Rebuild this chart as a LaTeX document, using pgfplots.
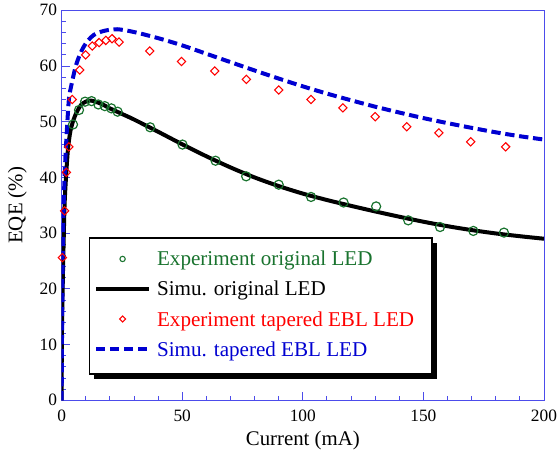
\documentclass[border=0pt]{standalone}
\usepackage{pgfplots}
\pgfplotsset{compat=1.18}
\usepackage{fontspec}
\setmainfont{Liberation Serif}
\usetikzlibrary{shadows}

\definecolor{expgreen}{rgb}{0.1,0.45,0.18}
\definecolor{frameblue}{rgb}{0.3,0.3,0.92}
\definecolor{simblue}{rgb}{0,0,0.82}

% legend line images drawn at pgf level, so the legend's drop shadow does not copy them
\pgfplotsset{
  blacklegend/.style={legend image code/.code={\begin{pgfscope}
    \pgfsetlinewidth{3pt}\pgfsetstrokecolor{black}
    \pgfpathmoveto{\pgfqpoint{0pt}{1.5pt}}\pgfpathlineto{\pgfqpoint{39.8pt}{1.5pt}}
    \pgfusepath{stroke}\end{pgfscope}}},
  bluelegend/.style={legend image code/.code={\begin{pgfscope}
    \pgfsetlinewidth{3pt}\pgfsetstrokecolor{simblue}\pgfsetdash{{7pt}{3.5pt}}{0pt}
    \pgfpathmoveto{\pgfqpoint{0pt}{1.5pt}}\pgfpathlineto{\pgfqpoint{39.8pt}{1.5pt}}
    \pgfusepath{stroke}\end{pgfscope}}},
  marklegend/.style={legend image code/.code={\draw[##1] plot coordinates {(0.7cm,1.5pt)};}},
}

\begin{document}
\begin{tikzpicture}
\begin{axis}[
  scale only axis, width=361.5pt, height=292.3pt,
  xmin=0, xmax=200, ymin=0, ymax=70,
  xtick={0,50,...,200}, ytick={0,10,...,70},
  xticklabels={0,50,100,150,200},
  yticklabels={0,10,20,30,40,50,60,70},
  minor x tick num=4, minor y tick num=4,
  tick align=inside, xtick pos=bottom, ytick pos=left,
  major tick length=6.5pt, minor tick length=3.5pt,
  axis line style={frameblue, line width=0.7pt},
  every tick/.style={frameblue, line width=0.7pt},
  tick label style={font=\fontsize{13}{15}\selectfont, black},
  xticklabel style={yshift=-4pt, inner xsep=0pt},
  label style={font=\fontsize{15.6}{18}\selectfont},
  xlabel={Current (mA)}, ylabel={EQE (\%)},
  ylabel style={inner ysep=6pt},
  legend cell align=left,
  legend style={at={(0.056,0.418)}, anchor=north west, draw=black, line width=1pt,
    fill=white, inner xsep=3.5pt, inner ysep=9pt, row sep=6pt,
    nodes={inner xsep=2.5pt, inner ysep=1pt, text height=11pt, text depth=3.5pt, font=\fontsize{15.8}{18}\selectfont},
    drop shadow={shadow xshift=3.5pt, shadow yshift=-3.5pt, fill=black, opacity=1}},
]
% legend entries
\addlegendimage{only marks, mark=o, color=expgreen, mark size=2pt, line width=0.8pt, marklegend}
\addlegendentry{\hspace*{2pt}\textcolor{expgreen}{Experiment original LED}}
\addlegendimage{no marks, black, line width=3pt, blacklegend}
\addlegendentry{\hspace*{2pt}Simu. original LED}
\addlegendimage{only marks, mark=square, mark options={rotate=45}, color=red, mark size=1.6pt, line width=0.8pt, marklegend}
\addlegendentry{\hspace*{2pt}\textcolor{red}{Experiment tapered EBL LED}\hspace*{7.5pt}}
\addlegendimage{no marks, simblue, line width=3pt, bluelegend}
\addlegendentry{\hspace*{2pt}\textcolor{simblue}{Simu. tapered EBL LED}}

% simulated curves
\addplot[forget plot, black, line width=3pt, smooth, tension=0.5] coordinates {
(0,0) (0.1,12) (0.5,22) (0.8,28) (1.2,35) (1.8,40) (2.6,45) (3.5,48) (4.5,49.8)
(6,51.5) (8,53) (10,53.6) (12,53.8) (14,53.6) (17,53.1) (20,52.4) (25,51.4)
(30,50.4) (40,48.2) (50,45.95) (60,43.8) (70,41.8) (80,40.0) (90,38.45)
(100,37.1) (110,35.95) (120,34.9) (130,33.9) (140,32.95) (150,32.05)
(160,31.25) (170,30.55) (180,29.95) (190,29.45) (200,29.0)};
\addplot[forget plot, simblue, line width=3pt, dash pattern=on 7pt off 3.5pt, smooth, tension=0.5] coordinates {
(0,0) (0.2,15) (0.5,28) (0.9,36) (1.4,42) (2.1,48) (3,54) (4,56.5) (5.8,59.9)
(7.5,62) (9.2,63.5) (11,64.6) (13.4,65.6) (17.5,66.3) (23,66.6) (30,66.1)
(40,65.0) (50,63.7) (60,62.2) (70,60.7) (80,59.2) (90,57.75) (100,56.35)
(110,55.05) (120,53.85) (130,52.7) (140,51.65) (150,50.65) (160,49.75)
(170,48.9) (180,48.1) (190,47.4) (200,46.8)};

% experiments
\addplot[forget plot, only marks, mark=o, expgreen, mark size=3.4pt, line width=0.9pt, mark options={fill=white}] coordinates {
(4.7,49.5) (7.2,52.1) (9.7,53.6) (12.4,53.7) (15.2,53.1) (17.9,52.8) (20.6,52.4)
(23.2,51.8) (36.7,49.0) (50.1,45.9) (63.8,43.0) (76.5,40.2) (90.0,38.7) (103.4,36.5)
(116.9,35.5) (130.4,34.8) (143.7,32.3) (156.9,31.1) (170.7,30.4) (183.4,30.1)};
\addplot[forget plot, only marks, mark=square, red, mark size=2.2pt, line width=0.8pt, mark options={fill=white, rotate=45}] coordinates {
(0.3,25.6) (1.24,34.0) (1.95,40.9) (3.0,45.5) (4.4,54.0) (7.5,59.3) (9.96,62.0)
(12.7,63.6) (15.5,64.2) (18.3,64.6) (20.9,64.9) (23.8,64.3) (36.5,62.7) (49.7,60.8)
(63.5,59.1) (76.6,57.6) (90.0,55.7) (103.4,54.0) (116.6,52.5) (130.0,50.9)
(143.1,49.1) (156.4,48.0) (169.6,46.4) (184.1,45.5)};
\end{axis}
\end{tikzpicture}
\end{document}
